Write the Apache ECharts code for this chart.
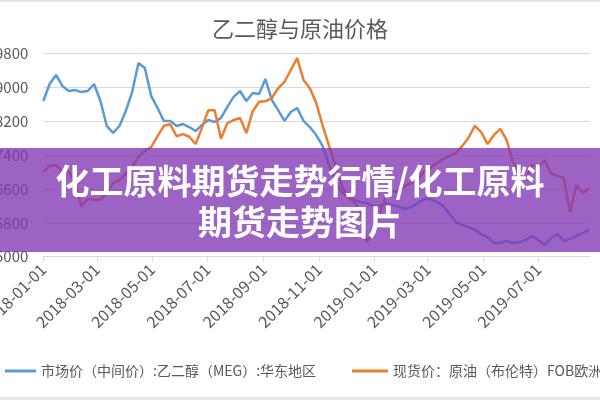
<!DOCTYPE html>
<html>
<head>
<meta charset="utf-8">
<title>乙二醇与原油价格</title>
<script src="https://cdn.jsdelivr.net/npm/echarts@6/dist/echarts.min.js"></script>
<style>
html,body{margin:0;padding:0;background:#fff;}
#chart{width:600px;height:400px;}
</style>
</head>
<body>
<div id="chart"></div>
<script>
// 周度采样日期
var weekDates = [
  '2018-01-01','2018-01-08','2018-01-15','2018-01-22','2018-01-29','2018-02-05','2018-02-12','2018-02-19','2018-02-26','2018-03-05',
  '2018-03-12','2018-03-19','2018-03-26','2018-04-02','2018-04-09','2018-04-16','2018-04-23','2018-04-30','2018-05-07','2018-05-14',
  '2018-05-21','2018-05-28','2018-06-04','2018-06-11','2018-06-18','2018-06-25','2018-07-02','2018-07-09','2018-07-16','2018-07-23',
  '2018-07-30','2018-08-06','2018-08-13','2018-08-20','2018-08-27','2018-09-03','2018-09-10','2018-09-17','2018-09-24','2018-10-01',
  '2018-10-08','2018-10-15','2018-10-22','2018-10-29','2018-11-05','2018-11-12','2018-11-19','2018-11-26','2018-12-03','2018-12-10',
  '2018-12-17','2018-12-24','2018-12-31','2019-01-07','2019-01-14','2019-01-21','2019-01-28','2019-02-04','2019-02-11','2019-02-18',
  '2019-02-25','2019-03-04','2019-03-11','2019-03-18','2019-03-25','2019-04-01','2019-04-08','2019-04-15','2019-04-22','2019-04-29',
  '2019-05-06','2019-05-13','2019-05-20','2019-05-27','2019-06-03','2019-06-10','2019-06-17','2019-06-24','2019-07-01','2019-07-08',
  '2019-07-15','2019-07-22','2019-07-29','2019-08-05','2019-08-12','2019-08-19','2019-08-26'
];
// 乙二醇(MEG)华东市场价
var megPrice = [
  8675, 9075, 9290, 9030, 8910, 8935, 8885, 8910, 9075, 8675,
  8085, 7920, 8085, 8440, 8885, 9570, 9455, 8795, 8510, 8205,
  8205, 8085, 8130, 8060, 7965, 8110, 8225, 8180, 8275, 8535,
  8770, 8910, 8675, 8865, 8840, 9195, 8700, 8460, 8205, 8415,
  8510, 8205, 8060, 7870, 7615, 7165, 6785, 6525, 6410, 6340,
  6290, 6265, 6195, 6195, 6265, 6220, 6175, 6125, 6175, 6265,
  6360, 6360, 6290, 6195, 6010, 5820, 5750, 5700, 5630, 5535,
  5465, 5325, 5325, 5370, 5325, 5345, 5395, 5490, 5395, 5275,
  5440, 5535, 5370, 5420, 5490, 5560, 5630
];
// 布伦特原油现货价
var brentPrice = [
  64.2, 65.4, 65.6, 64.2, 64.4, 62.1, 57.7, 59.1, 58.9, 58.9,
  60.2, 62.1, 62.7, 63.9, 65.2, 67.1, 68.3, 69.0, 71.1, 73.1,
  73.4, 71.1, 71.5, 71.0, 69.6, 72.7, 76.1, 76.1, 70.6, 73.6,
  74.2, 74.6, 71.7, 75.9, 77.7, 77.8, 78.4, 80.3, 81.5, 83.8,
  86.1, 81.9, 80.3, 77.5, 73.2, 69.4, 65.6, 61.7, 59.4, 58.5,
  56.6, 50.8, 52.9, 56.2, 59.6, 60.6, 60.4, 61.6, 62.1, 62.7,
  64.4, 65.0, 66.0, 66.7, 67.3, 67.9, 69.2, 70.8, 73.1, 71.9,
  69.6, 71.3, 72.5, 70.4, 66.2, 64.0, 62.7, 65.6, 65.2, 66.5,
  64.0, 63.5, 63.1, 56.6, 61.7, 60.2, 61.0
];
// 坐标轴范围
var dayRange = ['2018-01-01', '2019-08-27'];
var labelMonths = ['01', '03', '05', '07', '09', '11'];
var megAxis = [5000, 9800, 800];
var brentAxis = [48, 87];

var megName = '市场价（中间价）:乙二醇（MEG）:华东地区';
var brentName = '现货价：原油（布伦特）FOB欧洲';

function pad(n){ return n < 10 ? '0' + n : '' + n; }

function dayList(from, to){
    var list = [];
    var d = new Date(from + 'T00:00:00Z');
    var end = new Date(to + 'T00:00:00Z');
    while (d <= end) {
        list.push(d.getUTCFullYear() + '-' + pad(d.getUTCMonth() + 1) + '-' + pad(d.getUTCDate()));
        d.setUTCDate(d.getUTCDate() + 1);
    }
    return list;
}

function pairs(dates, values){
    return dates.map(function(d, i){ return [d, values[i]]; });
}

function showDay(index, value){
    var p = value.split('-');
    return p[2] === '01' && labelMonths.indexOf(p[1]) >= 0;
}

window.onload = function(){
    var font = "'Noto Sans CJK SC', 'Liberation Sans', sans-serif";
    var grey = '#595959';
    var option = {
        animation: false,
        textStyle: { fontFamily: font },
        color: ['#5b9bd5', '#ed7d31'],
        title: {
            text: '乙二醇与原油价格',
            left: 'center',
            top: 18,
            padding: 0,
            textStyle: { fontSize: 22, fontWeight: 'normal', color: grey, fontFamily: font }
        },
        legend: [{
            data: [megName],
            left: 0,
            top: 359,
            icon: 'rect',
            itemWidth: 31,
            itemHeight: 3,
            textStyle: { fontSize: 14, color: grey }
        }, {
            data: [brentName],
            left: 347,
            top: 359,
            icon: 'rect',
            itemWidth: 36,
            itemHeight: 3,
            textStyle: { fontSize: 14, color: grey }
        }],
        grid: {
            left: 43.3,
            right: 10,
            top: 53.3,
            bottom: 143.3,
            containLabel: false,
            outerBoundsMode: 'none'
        },
        xAxis: {
            type: 'category',
            data: dayList(dayRange[0], dayRange[1]),
            boundaryGap: false,
            axisLine: { lineStyle: { color: '#d9d9d9', width: 1 } },
            axisTick: { show: true, interval: showDay, length: 5, lineStyle: { color: '#d9d9d9' } },
            axisLabel: { interval: showDay, rotate: 45, margin: 10, fontSize: 16, color: grey }
        },
        yAxis: [{
            type: 'value',
            min: megAxis[0],
            max: megAxis[1],
            interval: megAxis[2],
            axisLine: { show: false },
            axisTick: { show: false },
            axisLabel: {
                margin: 15, fontSize: 15, color: grey,
                formatter: function(v){ return String(v); }
            },
            splitLine: { lineStyle: { color: '#d9d9d9', width: 1 } }
        }, {
            type: 'value',
            min: brentAxis[0],
            max: brentAxis[1],
            show: false,
            splitLine: { show: false }
        }],
        series: [{
            name: megName,
            type: 'line',
            yAxisIndex: 0,
            data: pairs(weekDates, megPrice),
            showSymbol: false,
            lineStyle: { width: 2.5 }
        }, {
            name: brentName,
            type: 'line',
            yAxisIndex: 1,
            data: pairs(weekDates, brentPrice),
            showSymbol: false,
            lineStyle: { width: 2.5 }
        }],
        graphic: [
            { type: 'rect', shape: { x: 0, y: 0, width: 600, height: 2 }, style: { fill: '#e3e3e3' } },
            { type: 'rect', shape: { x: 0, y: 397, width: 600, height: 3 }, style: { fill: '#e8e8e8' } },
            { type: 'rect', z: 100, shape: { x: 0, y: 148, width: 600, height: 104 }, style: { fill: 'rgba(130,55,180,0.78)' } },
            { type: 'text', z: 101, style: { text: '化工原料期货走势行情/化工原料', x: 300, y: 181, textAlign: 'center', textVerticalAlign: 'middle', fill: '#fff', font: 'bold 34px ' + font } },
            { type: 'text', z: 101, style: { text: '期货走势图片', x: 300, y: 222, textAlign: 'center', textVerticalAlign: 'middle', fill: '#fff', font: 'bold 34px ' + font } }
        ]
    };
    var myChart = echarts.init(document.getElementById('chart'));
    myChart.setOption(option);
};
</script>
</body>
</html>
